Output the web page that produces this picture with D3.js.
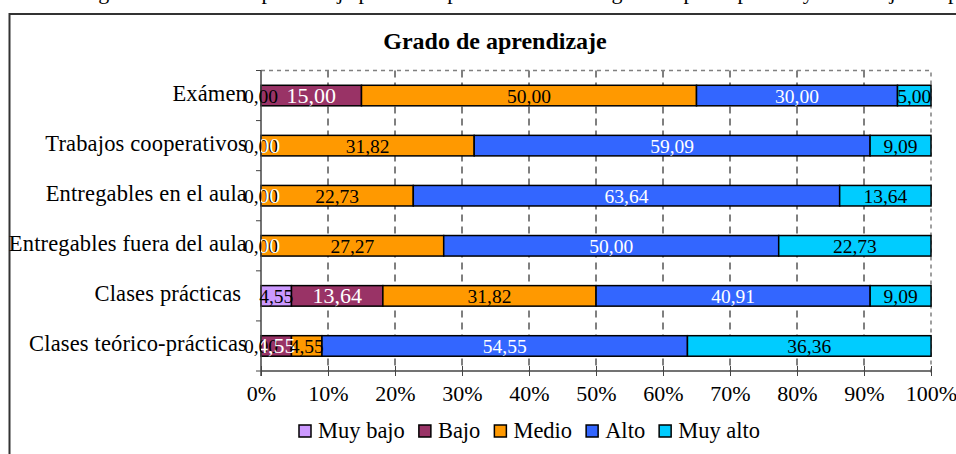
<!DOCTYPE html>
<html>
<head>
<meta charset="utf-8">
<script src="https://cdnjs.cloudflare.com/ajax/libs/d3/7.8.5/d3.min.js"></script>
<style>
  body { margin: 0; background: #fff; }
  svg { display: block; font-family: "Times New Roman", "Liberation Serif", serif; }
</style>
</head>
<body>
<div id="chart"></div>
<script>
// datos (porcentajes)
var categorias = ["Exámen", "Trabajos cooperativos", "Entregables en el aula",
  "Entregables fuera del aula", "Clases prácticas ", "Clases teórico-prácticas"];
var series = ["Muy bajo", "Bajo", "Medio", "Alto", "Muy alto"];
var muyBajo = [0.00, 0.00, 0.00, 0.00, 4.55, 0.00];
var bajo    = [15.00, 0.00, 0.00, 0.00, 13.64, 4.55];
var medio   = [50.00, 31.82, 22.73, 27.27, 31.82, 4.55];
var alto    = [30.00, 59.09, 63.64, 50.00, 40.91, 54.55];
var muyAlto = [5.00, 9.09, 13.64, 22.73, 9.09, 36.36];
var ticksX  = [0, 10, 20, 30, 40, 50, 60, 70, 80, 90, 100];

var colores = ["#CC99FF", "#993366", "#FF9900", "#3366FF", "#00CCFF"];
var colorTexto = ["#000", "#fff", "#000", "#fff", "#000"];
var tamTexto = [19.5, 22, 19.5, 19.5, 19.5];

var width = 956, height = 454;
var plot = { left: 261, right: 931, top: 70.5, bottom: 371 };

var svg = d3.select("#chart").append("svg")
  .attr("width", width)
  .attr("height", height);

// texto del pie de figura cortado arriba
svg.append("text")
  .attr("x", 80)
  .attr("y", -1.5)
  .attr("font-size", 22)
  .text("Figura 2. Grado de aprendizaje percibido por los alumnos según el tipo de prueba y de trabajo de aprendizaje");

// marco exterior
svg.append("path")
  .attr("d", "M9.5,454 L9.5,14 L956,14")
  .attr("fill", "none")
  .attr("stroke", "#333")
  .attr("stroke-width", 2);

// titulo
svg.append("text")
  .attr("x", 495)
  .attr("y", 49)
  .attr("text-anchor", "middle")
  .attr("font-size", 24)
  .attr("font-weight", "bold")
  .text("Grado de aprendizaje");

var x = d3.scaleLinear().domain([0, 100]).range([plot.left, plot.right]);
var y = d3.scaleBand().domain(categorias)
  .range([plot.top, plot.bottom])
  .paddingInner(0.59)
  .paddingOuter(0.295);

// tabla para apilar
var tabla = categorias.map(function(c, i) {
  return { cat: c, "Muy bajo": muyBajo[i], "Bajo": bajo[i], "Medio": medio[i], "Alto": alto[i], "Muy alto": muyAlto[i] };
});
var pila = d3.stack().keys(series)(tabla);

// lineas de division (discontinuas)
svg.append("g").selectAll("line")
  .data(ticksX.slice(1, -1))
  .enter().append("line")
  .attr("x1", d => x(d)).attr("x2", d => x(d))
  .attr("y1", plot.top).attr("y2", plot.bottom)
  .attr("stroke", "#000")
  .attr("stroke-width", 1)
  .attr("stroke-dasharray", "7,5");

// borde del area de trazado
svg.append("path")
  .attr("d", `M${plot.left},${plot.top} L${plot.right},${plot.top} L${plot.right},${plot.bottom + 4}`)
  .attr("fill", "none")
  .attr("stroke", "#808080")
  .attr("stroke-width", 1.5)
  .attr("stroke-dasharray", "4,4");

// barras
var grupos = svg.append("g").selectAll("g")
  .data(pila)
  .enter().append("g")
  .attr("fill", (d, i) => colores[i]);

grupos.selectAll("rect")
  .data(d => d)
  .enter().append("rect")
  .attr("x", d => x(d[0]))
  .attr("y", d => y(d.data.cat))
  .attr("width", d => x(d[1]) - x(d[0]))
  .attr("height", y.bandwidth())
  .attr("stroke", "#000")
  .attr("stroke-width", 1.5);

// eje X
var ejeX = svg.append("g")
  .attr("transform", `translate(0,${plot.bottom})`)
  .call(d3.axisBottom(x).tickValues(ticksX).tickSize(5).tickFormat(d => d + "%"))
  .attr("font-family", null)
  .attr("font-size", null);
ejeX.select(".domain").remove();
ejeX.append("line")
  .attr("x1", plot.left).attr("x2", plot.right)
  .attr("stroke", "#444").attr("stroke-width", 1.5);
ejeX.selectAll(".tick line")
  .attr("y1", -5).attr("y2", 5)
  .attr("stroke", "#444");
ejeX.selectAll(".tick text")
  .attr("y", 30)
  .attr("dy", 0)
  .attr("font-size", 22)
  .attr("fill", "#000");

// eje Y
var bordes = d3.range(categorias.length + 1).map(i => plot.top + i * y.step());
svg.append("line")
  .attr("x1", plot.left).attr("x2", plot.left)
  .attr("y1", plot.top).attr("y2", plot.bottom + 5)
  .attr("stroke", "#444").attr("stroke-width", 1.5);
svg.append("g").selectAll("line")
  .data(bordes)
  .enter().append("line")
  .attr("x1", plot.left - 5).attr("x2", plot.left)
  .attr("y1", d => d).attr("y2", d => d)
  .attr("stroke", "#444");

// etiquetas de categoria
svg.append("g").selectAll("text")
  .data(categorias)
  .enter().append("text")
  .attr("x", 247)
  .attr("y", d => y(d) + y.bandwidth() / 2 + 5)
  .attr("text-anchor", "end")
  .attr("font-size", 22.5)
  .attr("letter-spacing", 0.15)
  .style("white-space", "pre")
  .text(d => d);

// recorte para las etiquetas blancas
svg.append("clipPath").attr("id", "recorte")
  .append("rect")
  .attr("x", plot.left).attr("y", plot.top)
  .attr("width", plot.right - plot.left)
  .attr("height", plot.bottom - plot.top);

// etiquetas de valores
var fmt = d3.format(".2f");
pila.forEach(function(s, i) {
  svg.append("g")
    .attr("clip-path", colorTexto[i] === "#fff" ? "url(#recorte)" : null)
    .selectAll("text")
    .data(s)
    .enter().append("text")
    .attr("x", d => (x(d[0]) + x(d[1])) / 2)
    .attr("y", d => y(d.data.cat) + y.bandwidth() / 2 + 7)
    .attr("text-anchor", "middle")
    .attr("font-size", tamTexto[i])
    .attr("fill", colorTexto[i])
    .text(d => fmt(d[1] - d[0]).replace(".", ","));
});

// leyenda
var leyenda = svg.append("g");
var items = leyenda.selectAll("g")
  .data(series)
  .enter().append("g");
items.append("rect")
  .attr("width", 12).attr("height", 12)
  .attr("y", 425)
  .attr("fill", (d, i) => colores[i])
  .attr("stroke", "#000").attr("stroke-width", 1.5);
items.append("text")
  .attr("x", 19)
  .attr("y", 438)
  .attr("font-size", 22.5)
  .text(d => d);
var pos = 299;
items.each(function() {
  var g = d3.select(this);
  g.attr("transform", `translate(${pos},0)`);
  pos += 19 + g.select("text").node().getComputedTextLength() + 14;
});
</script>
</body>
</html>
